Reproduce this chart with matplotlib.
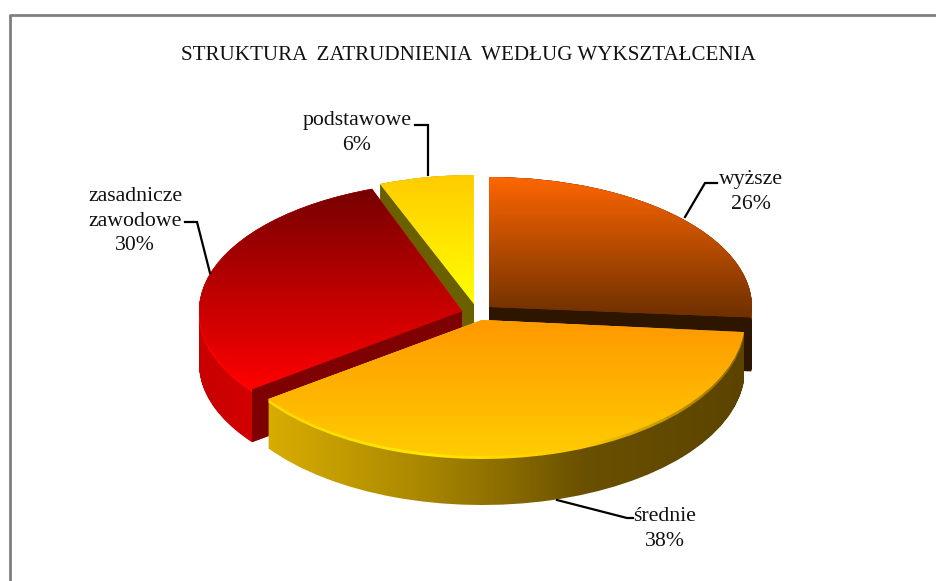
import numpy as np
import matplotlib
matplotlib.use("Agg")
import matplotlib.pyplot as plt
from matplotlib.colors import LinearSegmentedColormap
from matplotlib.patches import PathPatch, Polygon
from matplotlib.path import Path
from matplotlib.transforms import Affine2D

plt.rcParams['font.family'] = ['Liberation Serif', 'DejaVu Serif']

# chart data
title = "STRUKTURA  ZATRUDNIENIA  WEDŁUG WYKSZTAŁCENIA"
categories = ["wyższe", "średnie", "zasadnicze\nzawodowe", "podstawowe"]
shares = [26, 38, 30, 6]

# layout in picture pixels, one entry per slice
apex_x = [489, 482, 462, 474]
apex_y = [307, 320, 311, 304]
radius_x = [263, 263, 263, 255]
radius_y = [130, 136, 130, 129]
depth = [54, 49, 53, 50]
draw_order = [3, 0, 2, 1]
# the 3D view moves the cuts a bit away from their flat angles (theta1, theta2 per slice)
view_shift = [(-1, 0), (-4, -1.5), (-1.6, -2.6), (0, 0)]

top_colors = [["#ff6600", "#6e3000"], ["#ff9900", "#ffcc00"],
              ["#760000", "#ff0000"], ["#ffcc00", "#ffff00"]]
wall_colors = [["#2e1500", "#2e1500"],
               ["#d8ac00", "#c09a00", "#a88600", "#8a6c00", "#6a5000", "#624a00", "#5c4400"],
               ["#c80000", "#e00000", "#d00000"],
               ["#6b6000", "#6b6000"]]
rim_colors = [["#7a3500", "#9a4400"],
              ["#ffd800", "#ffe800", "#ffc800", "#8a6800"],
              ["#ff0000", "#ff1000"],
              ["#ffcc00", "#ffcc00"]]
cut_colors = ["#2e1500", None, "#7f0000", "#6b6000"]
# which end of the wedge shows its cut face
cut_theta = ["theta1", None, "theta2", "theta2"]

label_x = [751, 665, 135, 357]
label_y = [192, 529, 221, 133]
leaders = [[(685, 217), (705, 183), (717, 183)],
           [(557, 500), (627, 518), (633, 518)],
           [(210, 273), (197, 222), (185, 222)],
           [(428, 175), (428, 125), (415, 125)]]

fig = plt.figure(figsize=(9.36, 5.81), dpi=100)
ax = fig.add_axes([0, 0, 1, 1])
wedges, _ = ax.pie(shares, startangle=90, counterclock=False, radius=1)

for w, (d1, d2) in zip(wedges, view_shift):
    w.set_theta1(w.theta1 + d1)
    w.set_theta2(w.theta2 + d2)


def gradient(path, colors, vertical, zorder):
    cmap = LinearSegmentedColormap.from_list("g", colors)
    box = path.get_extents()
    ramp = np.linspace(0, 1, 256)
    ramp = ramp.reshape(-1, 1) if vertical else ramp.reshape(1, -1)
    im = ax.imshow(ramp, cmap=cmap, vmin=0, vmax=1, aspect='auto', interpolation='bilinear',
                   extent=[box.x0, box.x1, box.y1, box.y0], zorder=zorder)
    clip = PathPatch(path, transform=ax.transData, fc='none', ec='none', zorder=zorder)
    ax.add_patch(clip)
    im.set_clip_path(clip)


def swept(path, steps):
    # same winding everywhere, so the copies fill up as one shape
    return Path.make_compound_path(*[path.transformed(Affine2D().translate(0, d)) for d in range(steps + 1)])


for rank, i in enumerate(draw_order):
    w = wedges[i]
    w.set_visible(False)
    to_pixels = Affine2D().scale(radius_x[i], -radius_y[i]).translate(apex_x[i], apex_y[i])
    outline = w.get_path().transformed(to_pixels)
    z = 2 + rank * 5

    gradient(swept(outline, depth[i]), wall_colors[i], False, z)
    gradient(swept(outline, 3), rim_colors[i], False, z + 1)

    # cut face goes over the rim, the rim only belongs on the outer curve
    if cut_colors[i]:
        a = np.deg2rad(getattr(w, cut_theta[i]))
        tip = to_pixels.transform((np.cos(a), np.sin(a)))
        corners = [(apex_x[i], apex_y[i]), tip, (tip[0], tip[1] + depth[i]), (apex_x[i], apex_y[i] + depth[i])]
        ax.add_patch(Polygon(corners, fc=cut_colors[i], ec='none', zorder=z + 2))

    gradient(outline, top_colors[i], True, z + 3)

for i, cat in enumerate(categories):
    ax.text(label_x[i], label_y[i], f"{cat}\n{shares[i]}%", ha='center', va='center',
            fontsize=15.7, linespacing=1.38, color='#111111', zorder=40)
    xs, ys = zip(*leaders[i])
    ax.plot(xs, ys, color='black', lw=1.6, solid_joinstyle='miter', zorder=39)

ax.text(468, 56, title, ha='center', va='center', fontsize=15.1, color='#111111', zorder=40)

# chart frame, only left and top are inside the crop
ax.plot([10, 10, 936], [581, 15, 15], color='#808080', lw=2, zorder=41)

ax.set_aspect('auto')
ax.set_xlim(0, 936)
ax.set_ylim(581, 0)
ax.axis('off')

fig.savefig("out.png", dpi=100, facecolor='white')
